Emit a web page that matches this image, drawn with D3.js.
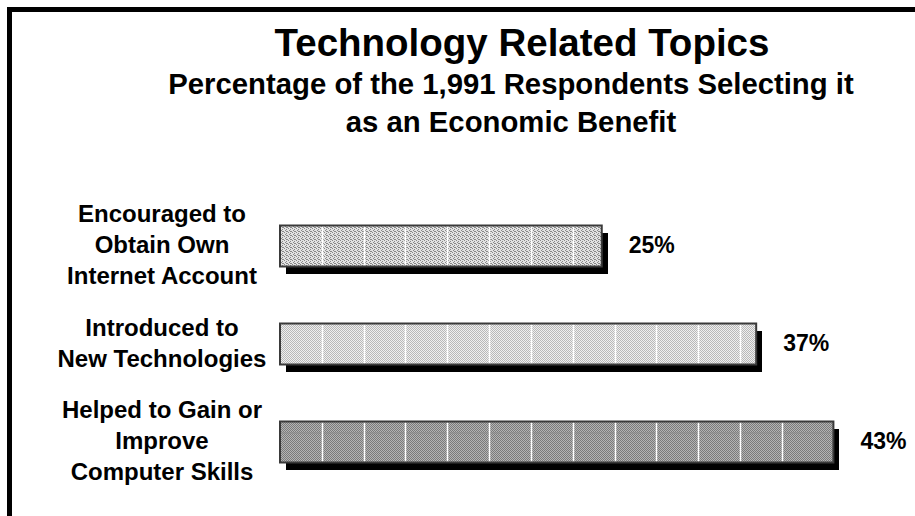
<!DOCTYPE html>
<html>
<head>
<meta charset="utf-8">
<script src="https://cdn.jsdelivr.net/npm/d3@7"></script>
<style>
  html, body { margin: 0; padding: 0; background: #fff; }
  svg { display: block; font-family: "Liberation Sans", Arial, sans-serif; font-weight: bold; }
</style>
</head>
<body>
<svg id="chart" width="915" height="516"></svg>
<script>
// Survey results: share of respondents naming each topic as an economic benefit
const categories = [
  ["Encouraged to", "Obtain Own", "Internet Account"],
  ["Introduced to", "New Technologies"],
  ["Helped to Gain or", "Improve", "Computer Skills"]
];
const values = [25, 37, 43];
const valueLabels = ["25%", "37%", "43%"];
const fills = ["stipple", "checkLight", "checkDark"];

const titleText = "Technology Related Topics";
const subtitleLines = ["Percentage of the 1,991 Respondents Selecting it", "as an Economic Benefit"];

const W = 915, H = 516;
const svg = d3.select("#chart");
const defs = svg.append("defs");

// Fill patterns
function pixelPattern(id, bg, fg, cells) {
  const p = defs.append("pattern")
    .attr("id", id).attr("patternUnits", "userSpaceOnUse")
    .attr("width", 4).attr("height", 4);
  p.append("rect").attr("width", 4).attr("height", 4).attr("fill", bg);
  cells.forEach(([cx, cy]) => p.append("rect")
    .attr("x", cx).attr("y", cy).attr("width", 1).attr("height", 1).attr("fill", fg));
}
pixelPattern("stipple", "#e2e2e2", "#888888", [[0,0],[2,1],[1,2],[3,3],[2,3]]);
pixelPattern("checkLight", "#efefef", "#b8b8b8", [[0,0],[2,0],[1,1],[3,1],[0,2],[2,2],[1,3],[3,3]]);
pixelPattern("checkDark", "#b4b4b4", "#7a7a7a", [[0,0],[2,0],[1,1],[3,1],[0,2],[2,2],[1,3],[3,3]]);

// Frame: top and left rules
svg.append("path")
  .attr("d", `M9.5,${H} V9.5 H${W}`)
  .attr("fill", "none").attr("stroke", "#000").attr("stroke-width", 5);

// Titles
svg.append("text").attr("x", 522).attr("y", 56)
  .attr("text-anchor", "middle").attr("font-size", 38.5).text(titleText);
svg.selectAll("text.sub").data(subtitleLines).join("text").attr("class", "sub")
  .attr("x", 511).attr("y", (d, i) => 94 + i * 38)
  .attr("text-anchor", "middle").attr("font-size", 29.3).text(d => d);

// Scales
const x = d3.scaleLinear().domain([0, 50]).range([280, 923.5]);
const y = d3.scalePoint().domain(d3.range(values.length)).range([246, 442]);
const barH = 41;
const gridStep = 3.25;
const shadow = { dx: 6, dy: 7 };

const rows = svg.append("g").selectAll("g").data(values).join("g");

// Drop shadow
rows.append("rect")
  .attr("x", x(0) + shadow.dx).attr("y", (d, i) => y(i) - barH / 2 + shadow.dy)
  .attr("width", d => x(d) - x(0)).attr("height", barH)
  .attr("fill", "#000").attr("shape-rendering", "crispEdges");

// Bar body
rows.append("rect")
  .attr("x", x(0)).attr("y", (d, i) => y(i) - barH / 2)
  .attr("width", d => x(d) - x(0)).attr("height", barH)
  .attr("fill", (d, i) => `url(#${fills[i]})`)
  .attr("shape-rendering", "crispEdges");

// Darker band near the top of the third bar
rows.filter((d, i) => i === 2).append("line")
  .attr("x1", x(0)).attr("x2", d => x(d))
  .attr("y1", y(2) - barH / 2 + 11.5).attr("y2", y(2) - barH / 2 + 11.5)
  .attr("stroke", "#8c8c8c").attr("stroke-width", 1);

// White grid lines inside each bar
rows.each(function (d, i) {
  const g = d3.select(this);
  const ticks = d3.range(gridStep, d, gridStep).filter(t => x(d) - x(t) > 12);
  g.selectAll("line.grid").data(ticks).join("line").attr("class", "grid")
    .attr("x1", t => Math.round(x(t)) + 0.5).attr("x2", t => Math.round(x(t)) + 0.5)
    .attr("y1", y(i) - barH / 2 + 1).attr("y2", y(i) + barH / 2 - 1)
    .attr("stroke", "#fff").attr("stroke-width", 1.5);
});

// Bar outline
rows.append("rect")
  .attr("x", x(0)).attr("y", (d, i) => y(i) - barH / 2)
  .attr("width", d => x(d) - x(0)).attr("height", barH)
  .attr("fill", "none").attr("stroke", "#3a3a3a").attr("stroke-width", 2);

// Value labels
rows.append("text")
  .attr("x", d => x(d) + 27).attr("y", (d, i) => y(i) + 7)
  .attr("font-size", 23).text((d, i) => valueLabels[i]);

// Category labels
const lineGap = 31;
rows.append("text")
  .attr("text-anchor", "middle").attr("font-size", 24)
  .each(function (d, i) {
    const lines = categories[i];
    d3.select(this).selectAll("tspan").data(lines).join("tspan")
      .attr("x", 162)
      .attr("y", (l, j) => y(i) + 7 + (j - (lines.length - 1) / 2) * lineGap)
      .text(l => l);
  });
</script>
</body>
</html>
